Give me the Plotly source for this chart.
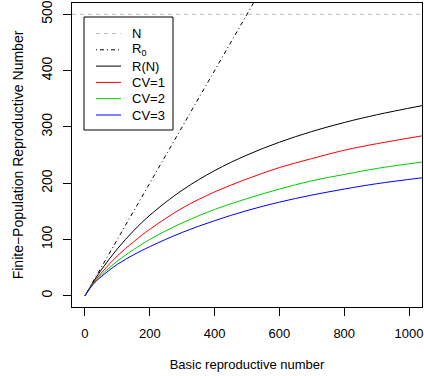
import plotly.graph_objects as go

# Basic reproductive number (x) sample points
r0 = [0, 25, 50, 100, 150, 200, 300, 400, 500, 600, 700, 800, 900, 1040]
# Finite-population reproductive number curves
r_n = [0, 23.8, 45.5, 83.3, 115.4, 142.9, 187.5, 222.2, 250, 272.7, 291.7, 307.7, 321.4, 337.7]
cv1 = [0, 22.1, 40.0, 70.8, 95.8, 118.0, 155.6, 184.4, 207.5, 227.7, 243.6, 258.5, 270.0, 284.0]
cv2 = [0, 20.9, 36.4, 61.6, 81.9, 100.0, 129.4, 153.3, 172.5, 189.5, 204.2, 215.4, 226.0, 237.5]
cv3 = [0, 20.2, 33.7, 55.8, 72.7, 87.2, 112.5, 133.3, 151.3, 166.3, 178.8, 189.5, 199.0, 209.5]
# Population size line and identity line
n_x = [-40, 1040]
n_y = [500, 500]
id_x = [0, 1040]
id_y = [0, 1040]

x_ticks = [0, 200, 400, 600, 800, 1000]
y_ticks = [0, 100, 200, 300, 400, 500]

legend_labels = ["N", "R<sub>0</sub>", "R(N)", "CV=1", "CV=2", "CV=3"]
colors = ["#BEBEBE", "black", "black", "#FF0000", "#00CD00", "#0000FF"]
dashes = ["4px,4px", "1px,3px,4px,3px", "solid", "solid", "solid", "solid"]

FONT = "Liberation Sans, Arial, Helvetica, sans-serif"
FS_X = 13     # horizontal texts
FS_Y = 14     # vertical (rotated) texts

W, H = 424, 376
ML, MR, MT, MB = 72, 2, 3, 69
PW, PH = W - ML - MR, H - MT - MB


def px(x):
    return (x - ML) / PW


def py(y):
    return (H - MB - y) / PH


fig = go.Figure()
fig.add_trace(go.Scatter(x=n_x, y=n_y, mode="lines", name=legend_labels[0],
                         line=dict(color=colors[0], width=1, dash=dashes[0])))
fig.add_trace(go.Scatter(x=id_x, y=id_y, mode="lines", name=legend_labels[1],
                         line=dict(color=colors[1], width=1, dash=dashes[1])))
for yv, i in [(r_n, 2), (cv1, 3), (cv2, 4), (cv3, 5)]:
    fig.add_trace(go.Scatter(x=r0, y=yv, mode="lines", name=legend_labels[i],
                             line_shape="spline",
                             line=dict(color=colors[i], width=1, dash=dashes[i])))

# Legend drawn as box + line samples + text (R-style compact legend)
shapes = [dict(type="rect", xref="paper", yref="paper",
               x0=px(84), x1=px(173), y0=py(130), y1=py(17),
               line=dict(color="black", width=1), fillcolor="white", layer="above")]
annotations = []
row0, gap = 33.5, 16.3
for i, lab in enumerate(legend_labels):
    yy = row0 + i * gap
    shapes.append(dict(type="line", xref="paper", yref="paper",
                       x0=px(96), x1=px(121), y0=py(yy), y1=py(yy),
                       line=dict(color=colors[i], width=1, dash=dashes[i]), layer="above"))
    annotations.append(dict(text=lab, xref="paper", yref="paper", x=px(131), y=py(yy),
                            xanchor="left", yanchor="middle", showarrow=False,
                            font=dict(size=FS_X, color="black"), borderpad=0))

fig.update_layout(
    width=W, height=H,
    margin=dict(l=ML, r=MR, t=MT, b=MB),
    paper_bgcolor="white", plot_bgcolor="white",
    font=dict(family=FONT, size=FS_X, color="black"),
    showlegend=False,
    shapes=shapes, annotations=annotations,
    xaxis=dict(range=[-40, 1040], tickvals=x_ticks, ticks="outside", ticklen=8,
               tickcolor="black", showline=True, linecolor="black", linewidth=1,
               mirror=True, showgrid=False, zeroline=False, automargin=False,
               ticklabelstandoff=6, tickfont=dict(size=FS_X),
               title=dict(text="Basic reproductive number", standoff=20,
                          font=dict(size=FS_X))),
    yaxis=dict(range=[-20, 520], tickvals=y_ticks, ticks="outside", ticklen=8,
               tickcolor="black", showline=True, linecolor="black", linewidth=1,
               mirror=True, showgrid=False, zeroline=False, tickangle=-90,
               automargin=False, ticklabelstandoff=5, tickfont=dict(size=FS_Y),
               title=dict(text="Finite\u2212Population Reproductive Number", standoff=12,
                          font=dict(size=FS_Y))),
)

fig.write_html("out.html", config={"displayModeBar": False},
               post_script="document.body.style.margin='0px';")
